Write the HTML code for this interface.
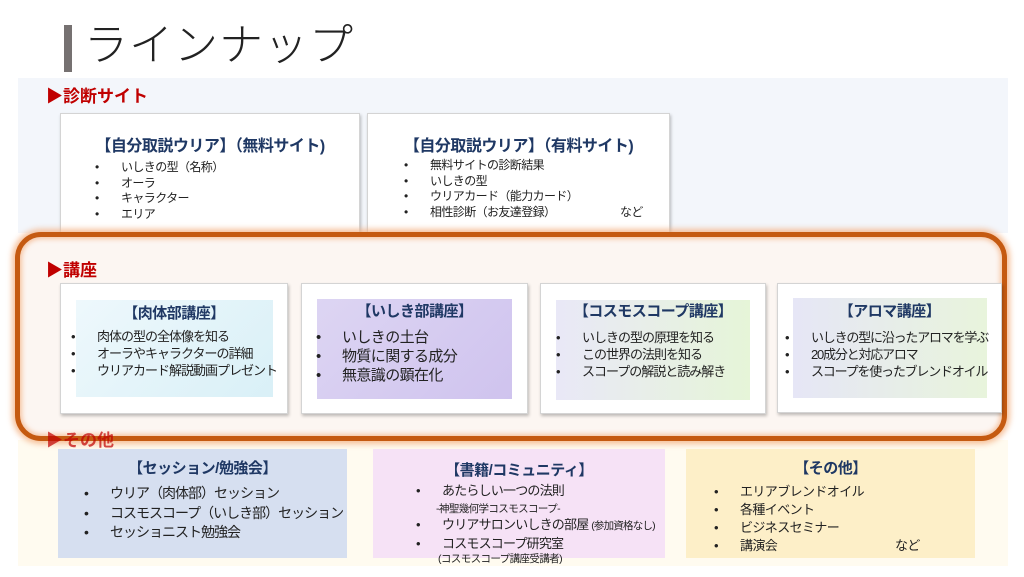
<!DOCTYPE html>
<html><head><meta charset="utf-8"><style>
*{margin:0;padding:0;box-sizing:border-box}
body{width:1024px;height:577px;position:relative;background:#fff;overflow:hidden;font-family:"Liberation Sans","Noto Sans CJK JP",sans-serif;color:#222}
.a{position:absolute}
.lbl{position:absolute;color:#c00000;font-weight:bold;font-size:17px;line-height:20px}
.card{position:absolute;background:#fff;border:1px solid #d4d4d4;box-shadow:1px 2px 3px rgba(0,0,0,.25)}
.t{position:absolute;left:0;right:0;text-align:center;color:#1f3864;font-weight:bold;white-space:nowrap;letter-spacing:-0.5px}
ul{position:absolute;list-style:none;white-space:nowrap;letter-spacing:-0.6px}
li{position:relative}
li:before{content:"•";position:absolute;left:-26px}
.n{position:absolute;white-space:nowrap;letter-spacing:-0.6px}
</style></head><body>
<div class="a" style="left:64px;top:25px;width:8px;height:47px;background:#767171"></div>
<div class="a" style="left:84px;top:18px;font-size:44px;font-weight:300;color:#222;line-height:56px;letter-spacing:1px">ラインナップ</div>

<div class="a" style="left:18px;top:78px;width:990px;height:155px;background:#f3f6fb"></div>
<div class="lbl" style="left:46px;top:87px">▶診断サイト</div>

<div class="card" style="left:60px;top:113px;width:300px;height:125px">
 <div class="t" style="top:18px;font-size:16px">【自分取説ウリア】（無料サイト)</div>
 <ul style="left:60px;top:46px;font-size:12px;line-height:15.5px"><li>いしきの型（名称）</li><li>オーラ</li><li>キャラクター</li><li>エリア</li></ul>
</div>
<div class="card" style="left:367px;top:113px;width:303px;height:125px">
 <div class="t" style="top:18px;font-size:16px">【自分取説ウリア】（有料サイト)</div>
 <ul style="left:62px;top:44px;font-size:12px;line-height:15.5px"><li>無料サイトの診断結果</li><li>いしきの型</li><li>ウリアカード（能力カード）</li><li>相性診断（お友達登録）<span style="position:absolute;left:190px">など</span></li></ul>
</div>

<div class="a" style="left:18px;top:440px;width:990px;height:126px;background:#fffbf0"></div>

<div class="a" style="left:15px;top:232px;width:992px;height:209px;border:5px solid #c55a11;border-radius:26px;background:#fcf6f2;box-shadow:0 0 6px 3px rgba(244,177,131,.8),inset 0 0 5px 2px rgba(244,177,131,.7)"></div>
<div class="lbl" style="left:46px;top:261px">▶講座</div>
<div class="lbl" style="left:46px;top:431px;opacity:.7">▶その他</div>

<div class="card" style="left:60px;top:283px;width:228px;height:131px">
 <div class="a" style="left:15px;top:16px;width:197px;height:97px;background:linear-gradient(135deg,#eef8fc,#d9f0f7)"></div>
 <div class="t" style="top:18px;font-size:15px">【肉体部講座】</div>
 <ul style="left:36px;top:44px;font-size:13px;line-height:17px;letter-spacing:-1px"><li>肉体の型の全体像を知る</li><li>オーラやキャラクターの詳細</li><li>ウリアカード解説動画プレゼント</li></ul>
</div>
<div class="card" style="left:301px;top:283px;width:227px;height:131px">
 <div class="a" style="left:15px;top:15px;width:195px;height:100px;background:linear-gradient(135deg,#ddd5f3,#cfc3ee)"></div>
 <div class="t" style="top:16px;font-size:15px">【いしき部講座】</div>
 <ul style="left:40px;top:44px;font-size:15px;line-height:19px"><li>いしきの土台</li><li>物質に関する成分</li><li>無意識の顕在化</li></ul>
</div>
<div class="card" style="left:540px;top:283px;width:226px;height:131px">
 <div class="a" style="left:15px;top:16px;width:194px;height:100px;background:linear-gradient(90deg,#e9e8f7,#e6f5d8)"></div>
 <div class="t" style="top:16px;font-size:15px">【コスモスコープ講座】</div>
 <ul style="left:41px;top:45px;font-size:13px;line-height:17px;letter-spacing:-1px"><li>いしきの型の原理を知る</li><li>この世界の法則を知る</li><li>スコープの解説と読み解き</li></ul>
</div>
<div class="card" style="left:777px;top:283px;width:225px;height:130px">
 <div class="a" style="left:15px;top:14px;width:194px;height:100px;background:linear-gradient(90deg,#e6e6f6,#e8f4dc)"></div>
 <div class="t" style="top:16px;font-size:15px">【アロマ講座】</div>
 <ul style="left:33px;top:45px;font-size:13px;line-height:17px;letter-spacing:-1.2px"><li>いしきの型に沿ったアロマを学ぶ</li><li>20成分と対応アロマ</li><li>スコープを使ったブレンドオイル</li></ul>
</div>

<div class="a" style="left:58px;top:449px;width:289px;height:109px;background:#d6dff0">
 <div class="t" style="top:8px;font-size:15px">【セッション/勉強会】</div>
 <ul style="left:52px;top:35px;font-size:14px;line-height:19.5px;letter-spacing:-1px"><li>ウリア（肉体部）セッション</li><li>コスモスコープ（いしき部）セッション</li><li>セッショニスト勉強会</li></ul>
</div>
<div class="a" style="left:373px;top:449px;width:292px;height:109px;background:#f6e2f6">
 <div class="t" style="top:10px;font-size:15px">【書籍/コミュニティ】</div>
 <ul style="left:69px;top:33px;font-size:13px;line-height:17px;letter-spacing:-0.8px"><li>あたらしい一つの法則</li></ul>
 <div class="n" style="left:63px;top:52px;font-size:10.5px">-神聖幾何学コスモスコープ-</div>
 <ul style="left:69px;top:67px;font-size:13px;line-height:17px;letter-spacing:-0.8px"><li>ウリアサロンいしきの部屋 <span style="font-size:10.5px">(参加資格なし)</span></li><li>コスモスコープ研究室</li></ul>
 <div class="n" style="left:65px;top:102px;font-size:10.5px">(コスモスコープ講座受講者)</div>
</div>
<div class="a" style="left:686px;top:449px;width:289px;height:109px;background:#fdefc8">
 <div class="t" style="top:8px;font-size:15px">【その他】</div>
 <ul style="left:54px;top:34px;font-size:13px;line-height:18px"><li>エリアブレンドオイル</li><li>各種イベント</li><li>ビジネスセミナー</li><li>講演会<span style="position:absolute;left:155px">など</span></li></ul>
</div>
</body></html>
